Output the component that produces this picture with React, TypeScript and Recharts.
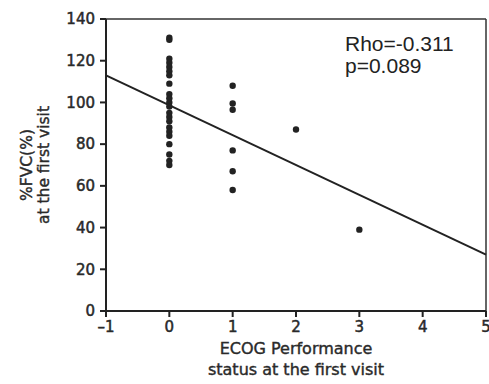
import {
  ScatterChart,
  Scatter,
  XAxis,
  YAxis,
  ReferenceLine,
  Label,
} from "recharts";

const xTicks = [-1, 0, 1, 2, 3, 4, 5];
const yTicks = [0, 20, 40, 60, 80, 100, 120, 140];

// %FVC by ECOG performance status
const fvcEcog0 = [131, 130, 121, 119, 117, 115, 113, 109, 104, 102, 100, 98, 95, 93, 91, 88, 86, 84, 80, 75, 72, 70];
const fvcEcog1 = [108, 99.5, 96.5, 77, 67, 58];
const fvcEcog2 = [87];
const fvcEcog3 = [39];

const fitLine = [
  { x: -1, y: 113 },
  { x: 5, y: 27 },
];

const points = [
  ...fvcEcog0.map((y) => ({ x: 0, y })),
  ...fvcEcog1.map((y) => ({ x: 1, y })),
  ...fvcEcog2.map((y) => ({ x: 2, y })),
  ...fvcEcog3.map((y) => ({ x: 3, y })),
];

const textColor = "#2a2a2a";
// thin outline to get the slightly heavy look of the scanned labels
const tickStyle = {
  fontSize: 15,
  fill: textColor,
  stroke: textColor,
  strokeWidth: 0.5,
  fontFamily: "DejaVu Sans",
};
const axisColor = "#222";

function YTitle({ viewBox }: any) {
  const cy = viewBox.y + viewBox.height / 2;
  return (
    <g fill={textColor} stroke={textColor} strokeWidth={0.4} fontFamily="DejaVu Sans" fontSize={15.5} textAnchor="middle">
      <text transform={`translate(27, ${cy}) rotate(-90)`} dominantBaseline="central">
        %FVC(%)
      </text>
      <text transform={`translate(44, ${cy}) rotate(-90)`} dominantBaseline="central">
        at the first visit
      </text>
    </g>
  );
}

function XTitle({ viewBox }: any) {
  const cx = viewBox.x + viewBox.width / 2;
  return (
    <g fill={textColor} stroke={textColor} strokeWidth={0.4} fontFamily="DejaVu Sans" fontSize={16} textAnchor="middle">
      <text x={cx} y={348} dominantBaseline="central">
        ECOG Performance
      </text>
      <text x={cx} y={369} dominantBaseline="central">
        status at the first visit
      </text>
    </g>
  );
}

export default function App() {
  return (
    <div style={{ position: "absolute", left: 0, top: 0, width: 489, height: 384, background: "#fff" }}>
      <ScatterChart width={489} height={384} margin={{ top: 19, right: 3, bottom: 43, left: 56 }}>
        <XAxis
          type="number"
          dataKey="x"
          domain={[-1, 5]}
          ticks={xTicks}
          tickFormatter={(v) => (v < 0 ? `\u2013${-v}` : `${v}`)}
          tick={tickStyle}
          tickSize={6}
          tickMargin={4}
          height={30}
          stroke={axisColor}
          strokeWidth={2}
          interval={0}
        >
          <Label content={<XTitle />} />
        </XAxis>
        <YAxis
          type="number"
          dataKey="y"
          domain={[0, 140]}
          ticks={yTicks}
          tick={tickStyle}
          tickSize={6}
          tickMargin={5}
          width={50}
          stroke={axisColor}
          strokeWidth={2}
          interval={0}
        >
          <Label content={<YTitle />} />
        </YAxis>
        <ReferenceLine y={140} stroke="#333" strokeWidth={1.5} />
        <ReferenceLine x={5} stroke="#333" strokeWidth={1.5} />
        <ReferenceLine segment={fitLine} stroke="#222" strokeWidth={2} />
        <Scatter data={points} fill="#222" isAnimationActive={false} shape={(p: any) => <circle cx={p.cx} cy={p.cy} r={3.2} fill="#222" />} />
      </ScatterChart>
      <div
        style={{
          position: "absolute",
          left: 345,
          top: 33,
          fontFamily: "Liberation Sans",
          fontSize: 21,
          lineHeight: "22px",
          color: "#222",
        }}
      >
        <div>Rho=-0.311</div>
        <div>p=0.089</div>
      </div>
    </div>
  );
}
